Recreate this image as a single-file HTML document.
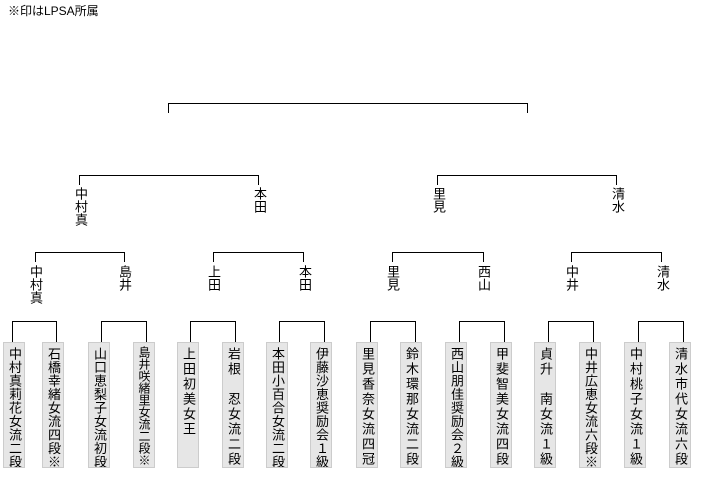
<!DOCTYPE html>
<html><head><meta charset="utf-8"><style>
body{margin:0;width:701px;height:485px;background:#fff;position:relative;overflow:hidden;font-family:"Liberation Sans","Noto Sans CJK JP",sans-serif;color:#000}
.b{position:absolute;box-sizing:border-box;border:1px solid #000;border-bottom:none}
.l{position:absolute;writing-mode:vertical-rl;text-orientation:upright;font-size:13px;line-height:14px;width:14px;letter-spacing:0px;white-space:nowrap}
.x{position:absolute;top:342px;width:22px;height:126px;box-sizing:border-box;background:#e6e6e6;border:1px solid #ccc;writing-mode:vertical-rl;text-orientation:upright;font-size:13px;line-height:20px;letter-spacing:0.5px;padding-top:4px;white-space:nowrap;overflow:hidden}
.e{letter-spacing:2px}
.t{font-size:12px;letter-spacing:0px;padding-top:3px}
</style></head><body>
<div style="position:absolute;left:8px;top:2px;font-size:12px">※印はLPSA所属</div>

<div class="b" style="left:168px;top:103px;width:360px;height:10px"></div>

<div class="b" style="left:79px;top:175px;width:180px;height:10px"></div>
<div class="b" style="left:437px;top:175px;width:180px;height:10px"></div>
<div class="l" style="left:73px;top:187px">中村真</div>
<div class="l" style="left:252px;top:187px">本田</div>
<div class="l" style="left:431px;top:187px">里見</div>
<div class="l" style="left:610px;top:187px">清水</div>

<div class="b" style="left:35px;top:252px;width:90px;height:10px"></div>
<div class="b" style="left:213px;top:252px;width:91px;height:10px"></div>
<div class="b" style="left:392px;top:252px;width:92px;height:10px"></div>
<div class="b" style="left:571px;top:252px;width:91px;height:10px"></div>
<div class="l" style="left:28px;top:265px">中村真</div>
<div class="l" style="left:117px;top:265px">島井</div>
<div class="l" style="left:206px;top:265px">上田</div>
<div class="l" style="left:297px;top:265px">本田</div>
<div class="l" style="left:385px;top:265px">里見</div>
<div class="l" style="left:476px;top:265px">西山</div>
<div class="l" style="left:564px;top:265px">中井</div>
<div class="l" style="left:655px;top:265px">清水</div>

<div class="b" style="left:12px;top:321px;width:45px;height:21px"></div>
<div class="b" style="left:101px;top:321px;width:46px;height:21px"></div>
<div class="b" style="left:190px;top:321px;width:46px;height:21px"></div>
<div class="b" style="left:279px;top:321px;width:46px;height:21px"></div>
<div class="b" style="left:370px;top:321px;width:46px;height:21px"></div>
<div class="b" style="left:459px;top:321px;width:46px;height:21px"></div>
<div class="b" style="left:548px;top:321px;width:46px;height:21px"></div>
<div class="b" style="left:638px;top:321px;width:46px;height:21px"></div>

<div class="x" style="left:3px">中村真莉花女流二段</div>
<div class="x" style="left:42px">石橋幸緒女流四段※</div>
<div class="x" style="left:88px">山口恵梨子女流初段</div>
<div class="x t" style="left:133px">島井咲緒里女流二段※</div>
<div class="x e" style="left:177px">上田初美女王</div>
<div class="x e" style="left:222px">岩根　忍女流二段</div>
<div class="x" style="left:266px">本田小百合女流二段</div>
<div class="x" style="left:310px">伊藤沙恵奨励会１級</div>
<div class="x e" style="left:356px">里見香奈女流四冠</div>
<div class="x e" style="left:400px">鈴木環那女流二段</div>
<div class="x" style="left:445px">西山朋佳奨励会２級</div>
<div class="x e" style="left:490px">甲斐智美女流四段</div>
<div class="x e" style="left:534px">貞升　南女流１級</div>
<div class="x" style="left:579px">中井広恵女流六段※</div>
<div class="x e" style="left:624px">中村桃子女流１級</div>
<div class="x e" style="left:669px">清水市代女流六段</div>
</body></html>
